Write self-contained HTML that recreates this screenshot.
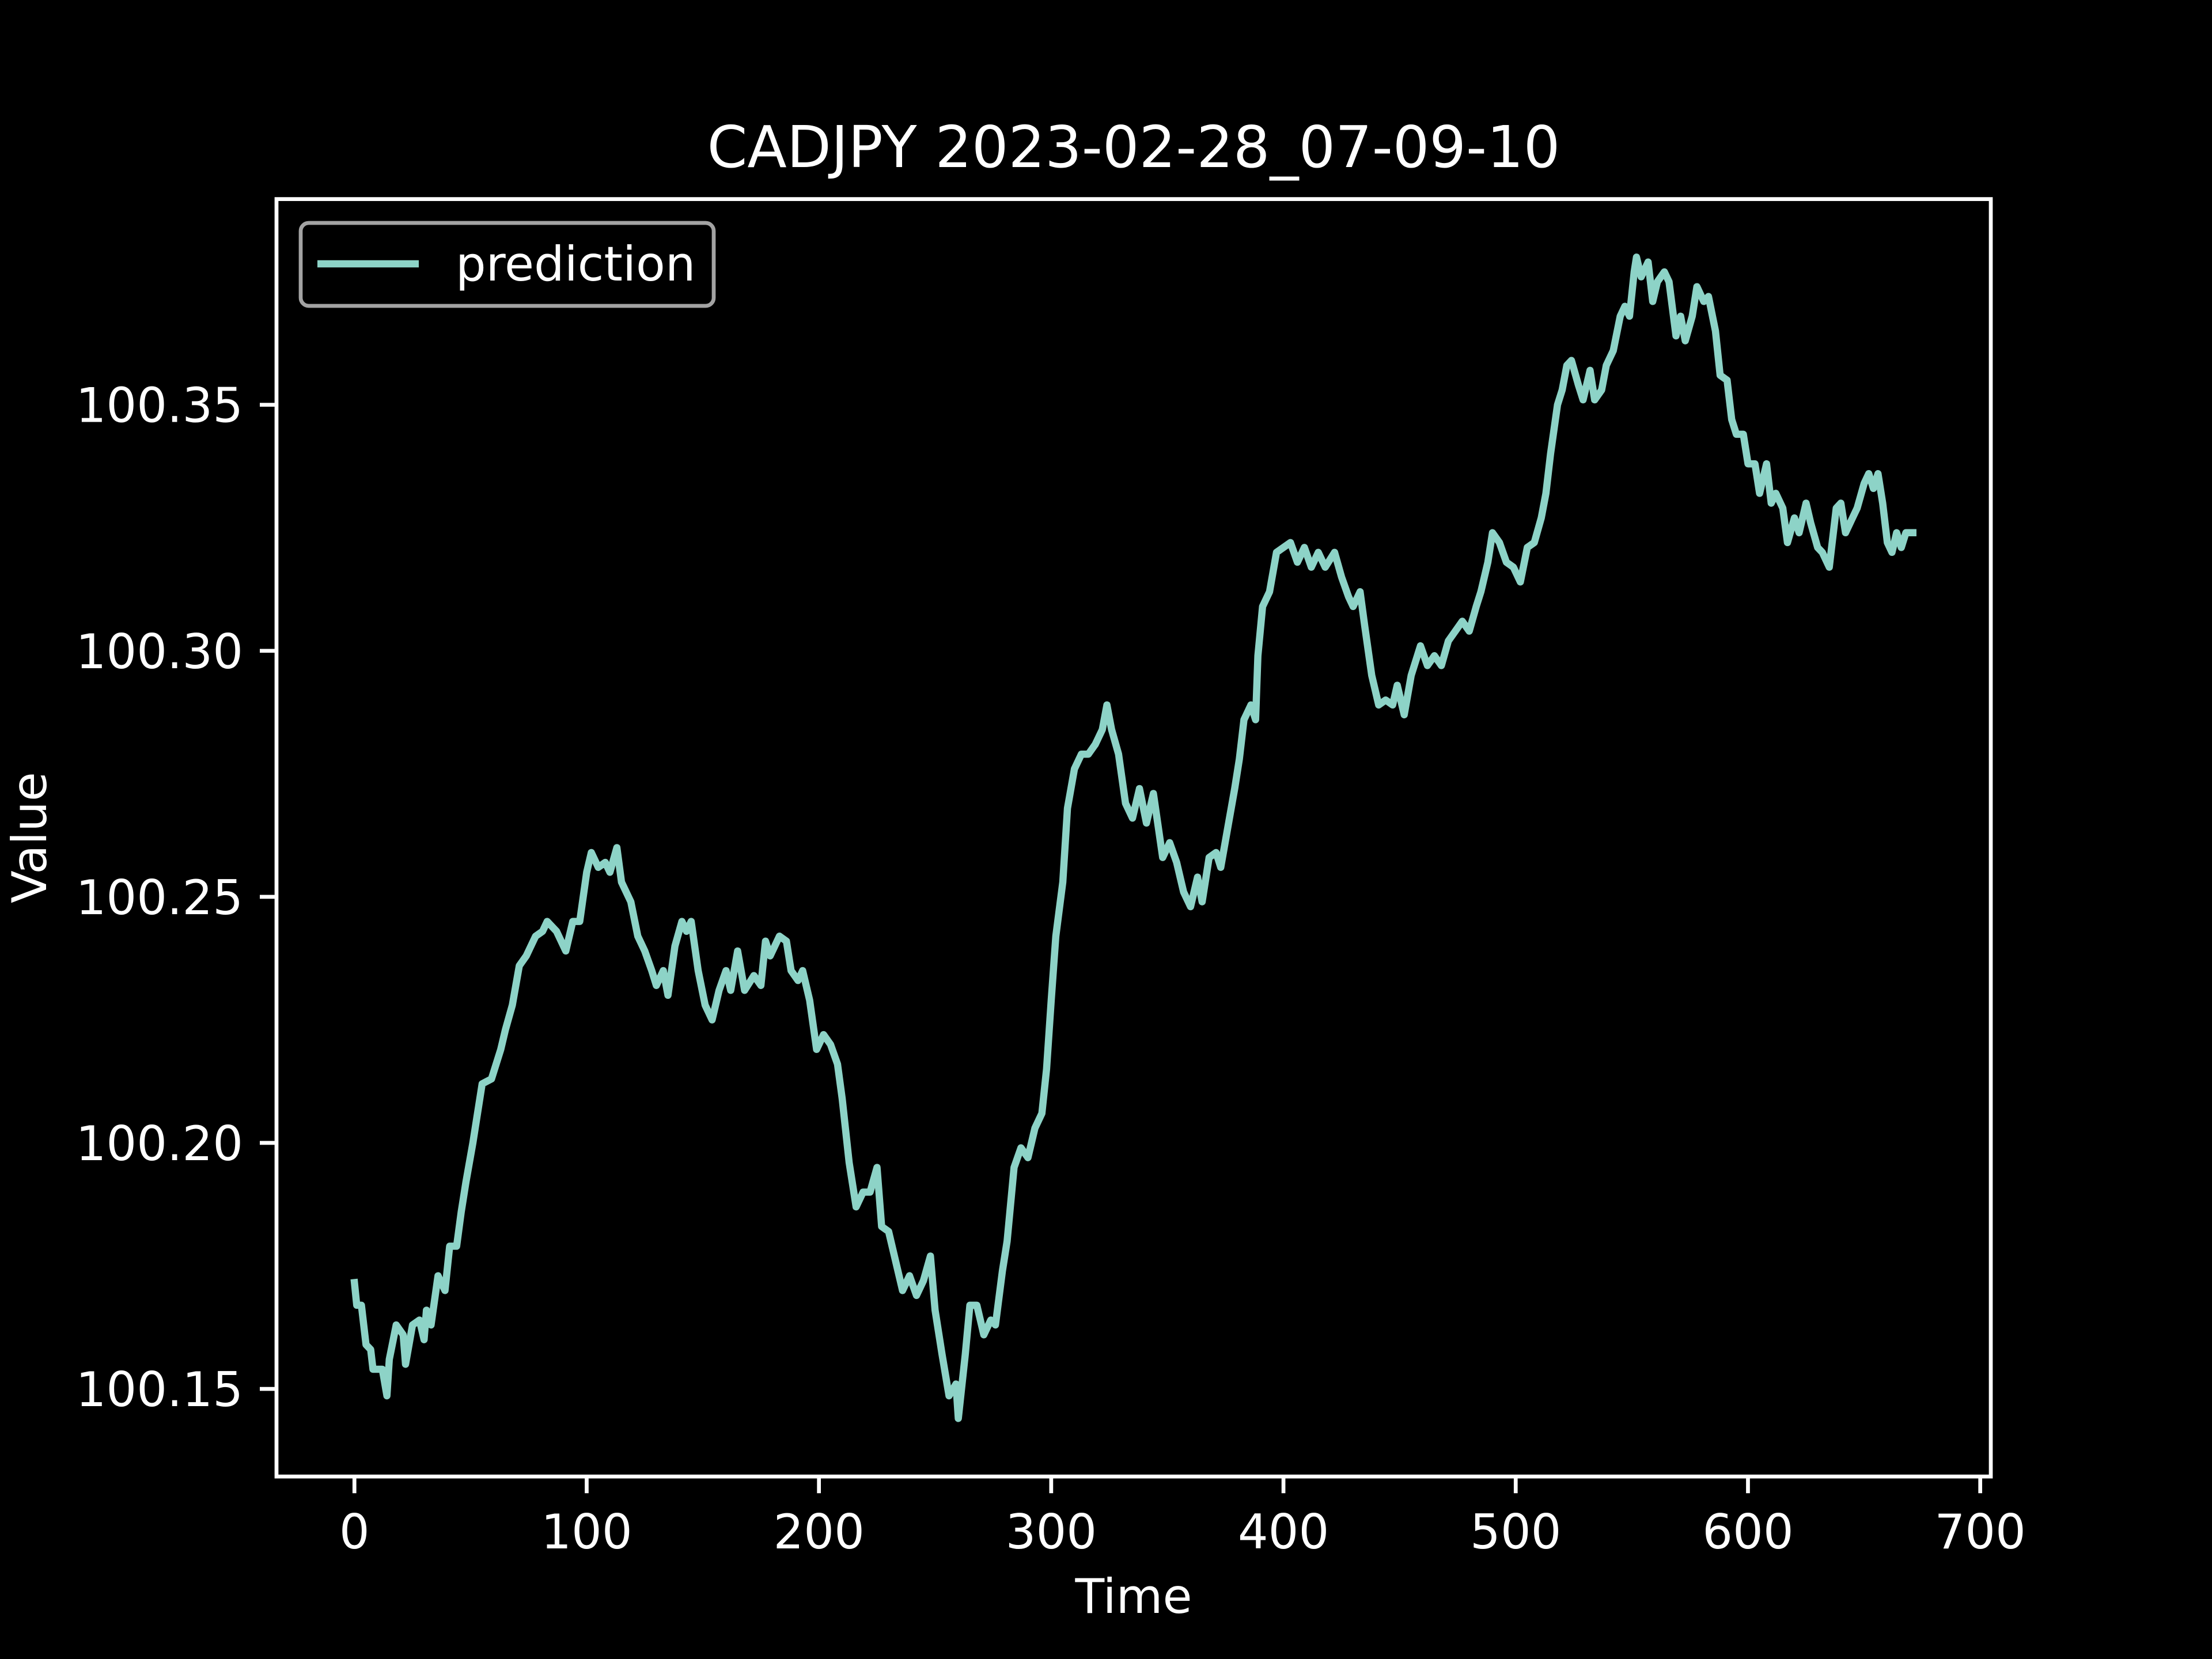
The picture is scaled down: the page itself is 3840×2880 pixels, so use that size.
<!DOCTYPE html>
<html><head><meta charset="utf-8"><style>
html,body{margin:0;padding:0;background:#000;}
svg{display:block;font-family:"DejaVu Sans","Liberation Sans",sans-serif;}
</style></head><body>
<svg id="chart" width="3840" height="2880" viewBox="0 0 3840 2880" xmlns="http://www.w3.org/2000/svg">
<rect x="0" y="0" width="3840" height="2880" fill="#000"/>
<text x="1968" y="290" fill="#fff" font-size="100" text-anchor="middle">CADJPY 2023-02-28_07-09-10</text>
<g id="plot"></g>
<rect x="480" y="345.6" width="2976" height="2217.6" fill="none" stroke="#fff" stroke-width="6.7"/>
<text x="1968" y="2800" fill="#fff" font-size="83" text-anchor="middle">Time</text>
<text x="0" y="0" transform="translate(80,1454) rotate(-90)" fill="#fff" font-size="83" text-anchor="middle">Value</text>
<g>
<rect x="522" y="387" width="717" height="144" rx="14" fill="#000" stroke="#cccccc" stroke-opacity="0.8" stroke-width="6.7"/>
<line x1="551" y1="458" x2="727" y2="458" stroke="#8dd3c7" stroke-width="12.5"/>
<text x="791" y="487" fill="#fff" font-size="83">prediction</text>
</g>
</svg>
<script>
const times=[0,1,3,5,7,8,12,14,15,18,21,22,25,28,30,31,33,36,39,41,44,46,48,51,55,59,63,65,68,71,74,78,81,83,87,91,94,97,100,102,105,108,110,113,115,119,122,125,128,130,133,135,138,141,143,145,148,151,154,157,160,162,165,168,172,175,177,179,183,186,188,191,193,196,199,202,205,208,210,213,216,219,222,225,227,230,233,236,239,242,245,248,250,253,256,259,260,263,265,268,271,274,276,279,281,284,287,290,293,296,298,300,302,305,307,310,313,316,319,322,324,326,329,332,335,338,341,344,348,351,354,357,360,363,365,368,371,373,376,379,381,383,386,388,389,391,394,397,400,403,406,409,412,415,418,422,425,428,430,433,435,438,441,444,447,449,452,455,459,462,465,468,471,474,477,480,483,485,488,490,493,496,499,502,505,508,511,513,515,518,520,522,524,527,529,532,534,537,539,542,545,547,549,551,552,554,557,559,561,564,566,569,571,573,576,578,581,583,586,588,591,593,595,598,600,603,605,608,610,612,615,617,620,622,625,627,630,632,635,638,640,642,645,647,650,652,654,656,658,660,662,664,666,668,671];
const values=[100.1716,100.167,100.167,100.159,100.158,100.154,100.154,100.1486,100.156,100.163,100.161,100.155,100.163,100.164,100.160,100.166,100.163,100.173,100.170,100.179,100.179,100.186,100.192,100.200,100.212,100.213,100.219,100.223,100.228,100.236,100.238,100.242,100.243,100.245,100.243,100.239,100.245,100.245,100.255,100.259,100.256,100.257,100.255,100.260,100.253,100.249,100.242,100.239,100.235,100.232,100.235,100.230,100.240,100.245,100.243,100.245,100.235,100.228,100.225,100.231,100.235,100.231,100.239,100.231,100.234,100.232,100.241,100.238,100.242,100.241,100.235,100.233,100.235,100.229,100.219,100.222,100.220,100.216,100.209,100.196,100.187,100.190,100.190,100.195,100.183,100.182,100.176,100.170,100.173,100.169,100.172,100.177,100.166,100.157,100.1486,100.151,100.144,100.157,100.167,100.167,100.161,100.164,100.163,100.174,100.180,100.195,100.199,100.197,100.203,100.206,100.215,100.229,100.242,100.253,100.268,100.276,100.279,100.279,100.281,100.284,100.289,100.284,100.279,100.269,100.266,100.272,100.265,100.271,100.258,100.261,100.257,100.251,100.248,100.254,100.249,100.258,100.259,100.256,100.264,100.272,100.278,100.286,100.289,100.286,100.299,100.309,100.312,100.320,100.321,100.322,100.318,100.321,100.317,100.320,100.317,100.320,100.315,100.311,100.309,100.312,100.305,100.295,100.289,100.290,100.289,100.293,100.287,100.295,100.301,100.297,100.299,100.297,100.302,100.304,100.306,100.304,100.309,100.312,100.318,100.324,100.322,100.318,100.317,100.314,100.321,100.322,100.327,100.332,100.340,100.350,100.353,100.358,100.359,100.354,100.351,100.357,100.351,100.353,100.358,100.361,100.368,100.370,100.368,100.377,100.380,100.376,100.379,100.371,100.375,100.377,100.375,100.364,100.368,100.363,100.368,100.374,100.371,100.372,100.365,100.356,100.355,100.347,100.344,100.344,100.338,100.338,100.332,100.338,100.330,100.332,100.329,100.322,100.327,100.324,100.330,100.326,100.321,100.320,100.317,100.329,100.330,100.324,100.327,100.329,100.334,100.336,100.333,100.336,100.330,100.322,100.320,100.324,100.321,100.324,100.324];
const xTicks=[0,100,200,300,400,500,600,700];
const yTicks=[100.15,100.20,100.25,100.30,100.35];
const yTickLabels=["100.15","100.20","100.25","100.30","100.35"];

const L=480,R=3456,T=345.6,B=2563.2;
const xmin=Math.min(...times),xmax=Math.max(...times),xm=(xmax-xmin)*0.05;
const ymin=Math.min(...values),ymax=Math.max(...values),ym=(ymax-ymin)*0.05;
const X=t=>L+(t-(xmin-xm))/((xmax+xm)-(xmin-xm))*(R-L);
const Y=v=>B-(v-(ymin-ym))/((ymax+ym)-(ymin-ym))*(B-T);
const NS='http://www.w3.org/2000/svg';
const g=document.getElementById('plot');
function mk(tag,attrs){const e=document.createElementNS(NS,tag);for(const k in attrs)e.setAttribute(k,attrs[k]);g.appendChild(e);return e;}
xTicks.forEach(t=>{
  const l=mk('line',{x1:X(t),x2:X(t),y1:B,y2:B+29,stroke:'#fff','stroke-width':6.7});
  
  
  const s=mk('text',{x:X(t),y:B+125,fill:'#fff','font-size':83,'text-anchor':'middle'});
  s.textContent=String(t);
  
  
});
yTicks.forEach((v,i)=>{
  const l=mk('line',{x1:L-29,x2:L,y1:Y(v),y2:Y(v),stroke:'#fff','stroke-width':6.7});
  
  
  const s=mk('text',{x:L-58,y:Y(v)+30,fill:'#fff','font-size':83,'text-anchor':'end'});
  s.textContent=yTickLabels[i];
  
  
});
const d=times.map((t,i)=>(i?'L':'M')+X(t).toFixed(1)+' '+Y(values[i]).toFixed(1)).join(' ');
const p=mk('path',{d:d,fill:'none',stroke:'#8dd3c7','stroke-width':12.5,'stroke-linejoin':'round','stroke-linecap':'square'});


</script>
</body></html>
